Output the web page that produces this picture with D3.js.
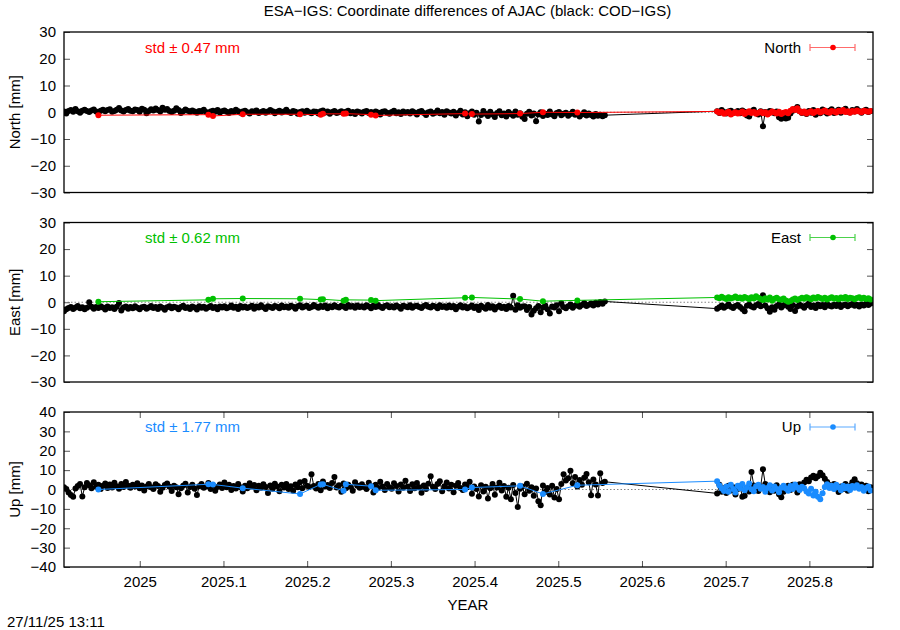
<!DOCTYPE html>
<html><head><meta charset="utf-8">
<script src="https://cdn.jsdelivr.net/npm/d3@7"></script>
<style>
body{margin:0;background:#fff}
svg{display:block}
text{font-family:"Liberation Sans",Arial,Helvetica,sans-serif;fill:#000}
</style>
</head><body>
<svg id="chart" width="900" height="630"></svg>
<script>
// ---------------- DATA ----------------
const titleText = "ESA\u2212IGS: Coordinate differences of AJAC (black: COD\u2212IGS)";
const xLabel = "YEAR";
const stampText = "27/11/25 13:11";
const yearOrigin = 2024.9095;          // decimal year of day index 0
const xDomain = [2024.9095, 2025.876];
const xTicks = [2025, 2025.1, 2025.2, 2025.3, 2025.4, 2025.5, 2025.6, 2025.7, 2025.8];
const xTickLabels = ["2025", "2025.1", "2025.2", "2025.3", "2025.4", "2025.5", "2025.6", "2025.7", "2025.8"];

// daily sampling blocks (day index ranges, inclusive)
const codBlocks = [[0, 236], [285, 352]];
const esaSparseDays = [15, 63, 65, 78, 103, 112, 113, 122, 123, 134, 136, 175, 178, 199, 209, 224];
const esaDenseBlock = [285, 352];

const panelNames = ["North", "East", "Up"];
const panelColors = ["#ff0000", "#00c000", "#1a8cff"];
const legendBarColors = ["#ff6b6b", "#4cd24c", "#5aa9ff"];
const stdLabels = ["std \u00b1 0.47 mm", "std \u00b1 0.62 mm", "std \u00b1 1.77 mm"];
const yDomains = [[-30, 30], [-30, 30], [-40, 40]];
const yTicksN = [-30, -20, -10, 0, 10, 20, 30];
const yTicksE = [-30, -20, -10, 0, 10, 20, 30];
const yTicksU = [-40, -30, -20, -10, 0, 10, 20, 30, 40];

// COD-IGS (black) values, mm
const codNorth = [
 0.3,-0.5,0.5,0.8,0.2,1.2,0.4,-0.2,0.6,0.9,
 0.5,0.1,0.7,1.0,0.3,-0.3,0.6,0.9,0.4,0.8,
 1.1,0.2,0.5,0.9,1.6,0.7,0.3,0.8,1.2,0.6,
 0.4,1.0,0.8,0.2,1.3,0.9,-0.4,0.5,1.1,0.7,
 1.4,0.8,0.3,1.7,0.9,1.2,0.5,0.1,0.6,1.5,
 0.8,-0.3,0.4,1.0,0.6,0.2,0.7,0.3,-0.2,0.5,
 0.4,0.9,0.1,-0.4,0.3,0.6,0.2,0.8,-0.1,0.4,
 0.7,0.2,-0.3,0.5,0.1,0.9,0.4,-0.2,0.3,0.6,
 0.0,-0.5,0.4,0.2,0.7,-0.3,0.1,0.5,-0.2,0.3,
 0.8,0.4,-0.4,0.2,0.6,-0.1,0.3,0.9,0.1,-0.3,
 0.5,0.2,-0.6,0.1,0.4,-0.2,0.6,0.0,-0.4,0.3,
 0.2,-0.5,0.4,0.7,-0.1,0.3,-0.6,0.1,0.5,-0.3,
 0.0,0.4,-0.2,0.2,0.6,-0.4,0.1,-0.7,0.3,0.0,
 -0.5,0.2,0.5,-0.3,0.1,-0.6,0.3,-0.1,-0.8,0.2,
 0.4,-0.2,-0.6,0.1,0.6,-0.4,0.0,-0.7,0.3,-0.2,
 0.1,-0.5,0.4,-0.1,-0.8,0.2,0.5,-0.3,-1.0,0.0,
 0.3,-0.6,-0.2,0.7,-0.4,0.1,-0.9,0.4,-0.1,-0.5,
 0.2,-1.2,-0.3,0.6,-0.8,0.0,-1.5,-0.4,0.3,-0.9,
 -0.2,-3.5,-1.0,0.5,-0.6,-1.4,0.2,-0.8,-1.8,-0.3,
 0.4,-1.1,-0.5,-1.6,0.1,-0.7,-1.3,0.3,-0.9,-0.4,
 -1.7,-2.5,-0.6,0.2,-1.2,-0.5,-3.4,-0.8,0.0,-1.4,
 -0.6,-1.0,0.3,-0.8,-1.5,-0.3,0.1,-1.1,-0.6,-0.2,
 -1.3,-0.7,0.2,-0.9,-0.4,-1.6,-0.8,0.0,-1.2,-0.5,
 -1.0,-1.6,-0.7,-1.3,-0.9,-1.5,-1.1,
 0.4,-0.3,0.8,0.1,-0.5,0.3,0.6,-0.2,0.0,0.5,
 -0.4,0.7,0.2,-1.2,-1.6,0.3,0.9,-0.3,-0.8,0.4,
 -5.2,0.1,-0.6,0.5,0.2,-0.4,0.3,-1.9,-2.4,-0.8,
 -2.3,-2.1,-0.5,0.6,1.2,2.0,0.4,-0.3,0.1,-0.7,
 0.5,-0.2,0.8,-0.9,0.3,-0.4,1.0,0.2,-0.5,0.6,
 1.1,-0.3,0.4,0.9,-0.2,0.7,1.3,0.2,-0.1,0.8,
 0.3,1.2,0.5,-0.2,0.6,0.9,0.1,0.4
];
const codEast = [
 -3.4,-2.6,-2.2,-1.8,-2.5,-2.0,-1.4,-2.3,-1.9,-2.6,
 -2.1,0.0,-1.7,-2.4,-1.8,-2.2,-1.5,-2.0,-2.7,-1.6,
 -2.2,-1.9,-2.5,-1.7,-0.3,-3.1,-2.0,-1.6,-2.4,-1.8,
 -2.3,-1.5,-2.1,-2.6,-1.9,-1.7,-2.4,-2.0,-1.4,-2.2,
 -1.8,-2.5,-1.6,-2.1,-2.8,-1.9,-1.5,-2.3,-1.7,-2.0,
 -2.6,-1.8,-1.3,-2.2,-1.9,-2.5,-1.6,-2.0,-2.7,-1.5,
 -2.1,-1.7,-2.4,-1.9,-1.4,-2.2,-1.8,-2.6,-1.6,-2.0,
 -1.5,-2.3,-1.9,-1.2,-2.1,-1.7,-2.5,-1.4,-2.0,-1.6,
 -2.2,-1.8,-1.3,-2.4,-1.6,-2.0,-1.1,-1.9,-2.5,-1.5,
 -1.8,-2.2,-1.4,-1.7,-2.3,-1.2,-1.9,-1.6,-2.1,-1.3,
 -1.7,-2.4,-1.5,-1.1,-2.0,-1.6,-1.3,-2.2,-1.8,-1.0,
 -1.6,-2.1,-1.4,-1.8,-1.2,-2.3,-1.5,-1.9,-1.1,-1.7,
 -2.0,-1.3,-1.6,-2.2,-1.0,-1.7,-1.4,-2.1,-1.2,-1.8,
 -1.5,-2.0,-1.1,-1.6,-2.3,-1.3,-1.8,-1.0,-1.7,-2.2,
 -1.4,-1.1,-1.9,-1.5,-2.0,-1.2,-1.7,-2.4,-1.3,-1.6,
 -1.9,-1.1,-2.1,-1.5,-1.3,-1.8,-2.2,-1.4,-1.0,-1.7,
 -2.0,-1.3,-1.6,-2.3,-1.1,-1.8,-1.5,-2.1,-1.2,-1.9,
 -1.4,-2.6,-1.7,-1.1,-2.0,-1.5,-2.3,-1.8,-1.2,-2.2,
 -1.6,-2.9,-1.3,-1.9,-2.4,-1.0,-2.1,-1.5,-2.7,-1.8,
 -1.3,-2.2,-1.7,-2.5,-1.4,-2.0,2.4,-2.8,-1.1,-2.1,
 -1.6,-1.5,-2.9,-1.8,-4.6,-3.2,-2.3,-1.4,-3.8,-2.0,
 -1.2,-2.6,-4.2,-1.6,-2.0,-1.1,-3.4,-0.4,-1.8,-2.3,
 -1.5,-0.8,-2.1,-1.3,-0.6,-1.7,-1.0,-0.3,-1.4,-0.9,
 -0.5,-1.2,-0.2,-0.8,0.1,-0.6,0.3,
 -2.4,-1.9,-1.2,-2.1,-1.5,-0.8,-1.7,-2.2,-1.4,-1.0,
 -1.8,-2.5,-3.4,-1.3,-0.9,-1.6,-2.0,-1.1,-0.7,-1.5,
 2.6,-1.2,-2.3,-3.6,-1.9,-2.8,-1.4,-0.8,-2.0,-1.2,
 -0.6,-1.7,-2.5,-1.0,-3.3,-1.6,-0.9,-1.4,-2.1,-1.1,
 -0.5,-1.8,-1.2,-2.2,-0.8,-1.5,-1.0,-1.9,-0.7,-1.3,
 -1.6,-0.9,-1.4,-0.6,-1.8,-1.1,-0.8,-1.5,-1.0,-0.7,
 -1.3,-0.9,-1.6,-0.8,-1.2,-0.6,-1.0,-0.5
];
const codUp = [
 1.2,0.3,-1.5,-2.8,-3.8,0.5,1.8,2.9,-3.6,1.1,
 3.4,2.2,0.6,3.8,1.4,2.5,0.2,1.9,3.1,0.8,
 2.6,1.0,3.5,1.7,0.4,2.8,1.3,3.9,2.0,0.9,
 2.4,1.5,3.2,0.7,2.1,-0.5,1.6,2.9,1.1,0.3,
 2.7,1.8,-1.2,0.9,2.3,3.1,1.4,-0.8,2.0,1.2,
 -2.4,0.6,1.9,3.0,-1.6,1.3,2.5,0.4,-2.9,1.7,
 2.8,0.9,1.5,3.3,0.2,2.2,-0.6,1.4,2.6,0.8,
 3.6,1.1,2.4,-0.3,1.8,0.5,2.9,1.2,-1.0,2.0,
 0.7,3.2,1.5,2.3,-0.4,1.9,0.9,2.7,1.3,-1.8,
 2.1,0.4,3.0,1.6,-0.9,2.4,1.0,2.8,0.3,1.7,
 -0.7,2.6,1.2,3.7,0.6,4.4,2.0,1.3,7.9,1.8,
 0.5,2.9,-0.4,4.1,1.6,2.3,0.8,3.4,6.4,1.0,
 2.2,-1.2,3.1,0.7,2.5,1.4,-0.6,3.8,1.9,0.9,
 2.7,1.3,0.2,3.5,1.7,-1.5,2.4,0.8,4.0,1.6,
 -0.3,2.9,1.1,0.4,3.2,1.8,-1.0,2.6,0.9,4.5,
 1.5,-0.8,2.7,0.6,3.4,1.2,-1.7,2.1,0.3,3.0,
 6.9,1.4,0.2,2.8,4.2,-0.9,1.7,3.6,0.5,2.4,
 -1.4,1.9,3.3,0.8,-0.2,2.6,1.1,4.0,-2.2,1.5,
 0.3,-3.6,2.2,-1.0,1.4,-4.6,0.6,2.9,-2.7,1.0,
 3.5,-0.5,1.8,-3.8,0.9,-5.0,2.3,-1.8,-9.0,0.4,
 1.6,-2.5,3.0,-0.7,1.2,-3.2,0.5,-6.0,-8.1,2.1,
 -1.3,0.8,-2.6,1.9,-4.1,0.2,-5.0,2.8,7.9,4.6,
 5.8,9.7,3.2,6.4,1.5,4.9,2.4,6.1,8.0,3.7,
 -3.0,5.2,2.6,-3.1,8.4,3.4,4.0,
 -2.0,2.4,-1.2,0.6,-1.8,1.9,-0.5,1.2,-2.6,0.3,
 1.7,-3.8,-3.2,0.9,-1.0,9.0,2.1,0.4,-0.8,1.6,
 10.5,2.8,0.7,-1.4,1.3,-0.6,2.2,-2.4,-4.0,-1.2,
 0.8,1.9,-0.3,2.5,1.0,-1.5,2.7,1.4,3.6,5.0,
 4.3,6.2,7.1,5.8,6.8,8.6,7.4,5.5,3.9,2.3,
 1.1,2.8,0.5,-1.3,1.6,0.2,2.9,-0.7,1.8,3.7,
 5.3,3.2,1.5,2.6,0.8,1.9,-0.9,1.2
];

// ESA-IGS (coloured) values, mm: sparse days first, then dense block
const esaNorth = [
 -1.1,-0.9,-1.4,-0.75,-0.75,-0.9,-0.6,-0.6,-0.5,-0.9,-1.2,-0.5,-0.7,-0.5,0.0,-0.1,
 0.3,-0.2,0.1,-0.6,-0.3,0.2,-0.8,-0.4,0.0,-0.5,
 -0.2,0.3,-0.7,-0.1,0.4,-0.3,0.1,-0.6,-0.2,0.2,
 -0.4,0.0,-0.8,-0.3,0.3,-0.1,-0.5,0.2,-0.7,-0.2,
 0.1,-0.4,0.6,1.2,0.8,1.5,0.4,-0.2,0.3,-0.5,
 0.0,0.4,-0.3,0.2,0.5,-0.1,0.3,0.7,0.1,-0.2,
 0.5,0.2,-0.1,0.6,0.3,0.8,0.1,0.4,-0.2,0.5,
 0.2,0.7,0.3,0.0,0.6,0.4,0.2,0.5
];
const esaEast = [
 0.2,0.9,1.3,1.4,1.3,1.0,1.1,0.6,0.9,0.8,0.6,1.7,1.8,1.2,0.4,0.7,
 1.8,1.5,2.1,1.6,1.2,1.9,1.4,1.7,2.2,1.5,
 1.8,1.3,2.0,1.6,1.1,1.9,1.4,2.3,1.7,1.2,
 0.8,1.5,1.0,1.8,0.6,1.3,1.7,1.1,0.9,1.4,
 0.7,0.2,0.5,1.0,1.4,0.8,1.2,1.7,1.3,1.9,
 1.5,1.1,1.8,1.4,2.0,1.6,1.2,1.7,1.0,1.5,
 1.9,1.3,1.6,1.1,1.8,1.4,2.0,1.2,1.7,1.5,
 1.1,1.6,1.9,1.3,1.7,1.2,1.5,1.0
];
const esaUp = [
 0.0,2.7,2.6,0.7,-2.3,2.6,2.7,-0.7,2.7,1.7,-0.4,0.0,1.0,1.9,-2.3,2.2,
 4.3,2.1,0.5,-0.8,1.6,-1.2,2.4,0.3,-1.5,1.9,
 0.6,2.8,-0.4,1.2,3.1,0.1,-0.9,1.7,2.5,0.4,
 1.3,-1.1,0.8,2.2,-0.5,1.5,0.2,-1.4,0.9,2.0,
 0.5,-0.7,1.8,0.2,2.6,1.0,-0.3,1.4,0.6,-1.0,
 -2.0,0.4,-3.1,-1.2,-3.8,-5.0,-1.9,1.3,2.7,0.8,
 1.9,0.3,2.4,1.1,-0.4,2.0,0.6,1.5,-0.2,1.8,
 0.9,2.2,0.4,1.3,-0.6,0.8,1.5,-0.5
];

// ---------------- BUILD ----------------
const FS = "15px";
const expand = ([a, b]) => d3.range(a, b + 1);
const codDays = codBlocks.flatMap(expand);
const esaDays = esaSparseDays.concat(expand(esaDenseBlock));
const toYear = d => yearOrigin + d / 365.25;

const codSeries = [codNorth, codEast, codUp];
const esaSeries = [esaNorth, esaEast, esaUp];
const yTickSets = [yTicksN, yTicksE, yTicksU];
const panelBoxes = [[32, 192.5], [222.5, 382], [412, 567]];
const left = 64, right = 873;

const svg = d3.select("#chart");
const x = d3.scaleLinear().domain(xDomain).range([left, right]);

svg.append("text").attr("x", 467.5).attr("y", 16).attr("text-anchor", "middle")
  .style("font-size", FS).text(titleText);

panelNames.forEach((name, i) => {
  const [top, bottom] = panelBoxes[i];
  const y = d3.scaleLinear().domain(yDomains[i]).range([bottom, top]);
  const g = svg.append("g");
  const clipId = "clip" + i;
  svg.append("clipPath").attr("id", clipId).append("rect")
    .attr("x", left).attr("y", top).attr("width", right - left).attr("height", bottom - top);

  // y ticks (left and right, inward)
  const yAxisL = d3.axisLeft(y).tickValues(yTickSets[i]).tickSize(-6).tickPadding(8)
    .tickFormat(v => v < 0 ? "\u2212" + Math.abs(v) : String(v));
  const gl = g.append("g").attr("transform", `translate(${left},0)`).call(yAxisL);
  gl.select(".domain").remove();
  gl.selectAll("line").attr("stroke", "#555");
  gl.selectAll("text").style("font-size", FS).style("font-family", "Liberation Sans, Arial, sans-serif").attr("fill", "#000");
  const gr = g.append("g").attr("transform", `translate(${right},0)`)
    .call(d3.axisRight(y).tickValues(yTickSets[i]).tickSize(-6).tickFormat(""));
  gr.select(".domain").remove();
  gr.selectAll("line").attr("stroke", "#555");

  // x ticks only in bottom panel
  if (i === 2) {
    const gb = g.append("g").attr("transform", `translate(0,${bottom})`)
      .call(d3.axisBottom(x).tickValues(xTicks).tickSize(-6).tickPadding(9.5)
        .tickFormat((d, k) => xTickLabels[k]));
    gb.select(".domain").remove();
    gb.selectAll("line").attr("stroke", "#555");
    gb.selectAll("text").style("font-size", FS).style("font-family", "Liberation Sans, Arial, sans-serif").attr("fill", "#000");
    const gt = g.append("g").attr("transform", `translate(0,${top})`)
      .call(d3.axisTop(x).tickValues(xTicks).tickSize(-6).tickFormat(""));
    gt.select(".domain").remove();
    gt.selectAll("line").attr("stroke", "#555");
  }

  // y label
  svg.append("text").attr("transform", `translate(20,${(top + bottom) / 2}) rotate(-90)`)
    .attr("text-anchor", "middle").style("font-size", FS).text(name + " [mm]");

  const plot = g.append("g").attr("clip-path", `url(#${clipId})`);
  // zero dotted line
  plot.append("line").attr("x1", left).attr("x2", right).attr("y1", y(0)).attr("y2", y(0))
    .attr("stroke", "#666").attr("stroke-width", 0.8).attr("stroke-dasharray", "1.5,2");

  const codPts = codDays.map((d, k) => [toYear(d), codSeries[i][k]]);
  const esaPts = esaDays.map((d, k) => [toYear(d), esaSeries[i][k]]);
  const line = d3.line().x(d => x(d[0])).y(d => y(d[1]));

  plot.append("path").attr("d", line(codPts)).attr("fill", "none").attr("stroke", "#000").attr("stroke-width", 1);
  plot.selectAll(".cod").data(codPts).enter().append("circle")
    .attr("cx", d => x(d[0])).attr("cy", d => y(d[1])).attr("r", 3).attr("fill", "#000");

  plot.append("path").attr("d", line(esaPts)).attr("fill", "none").attr("stroke", panelColors[i]).attr("stroke-width", 1);
  plot.selectAll(".esa").data(esaPts).enter().append("circle")
    .attr("cx", d => x(d[0])).attr("cy", d => y(d[1])).attr("r", 3).attr("fill", panelColors[i]);

  // frame
  g.append("rect").attr("x", left).attr("y", top).attr("width", right - left).attr("height", bottom - top)
    .attr("fill", "none").attr("stroke", "#000").attr("stroke-width", 1.3);

  // std text
  const ly = [47.5, 237.5, 427][i];
  svg.append("text").attr("x", 145).attr("y", ly).attr("dy", "0.35em")
    .style("font-size", FS).style("fill", panelColors[i]).text(stdLabels[i]);

  // legend
  svg.append("text").attr("x", 801).attr("y", ly).attr("dy", "0.35em").attr("text-anchor", "end")
    .style("font-size", FS).text(name);
  const lg = svg.append("g").attr("stroke", legendBarColors[i]).attr("stroke-width", 1.2);
  lg.append("line").attr("x1", 810).attr("x2", 855).attr("y1", ly).attr("y2", ly);
  lg.append("line").attr("x1", 810).attr("x2", 810).attr("y1", ly - 3.5).attr("y2", ly + 3.5);
  lg.append("line").attr("x1", 855).attr("x2", 855).attr("y1", ly - 3.5).attr("y2", ly + 3.5);
  svg.append("circle").attr("cx", 833).attr("cy", ly).attr("r", 2.8).attr("fill", panelColors[i]);
});

svg.append("text").attr("x", 468).attr("y", 610).attr("text-anchor", "middle")
  .style("font-size", FS).text(xLabel);
svg.append("text").attr("x", 7).attr("y", 627)
  .style("font-size", FS).text(stampText);
</script>
</body></html>
